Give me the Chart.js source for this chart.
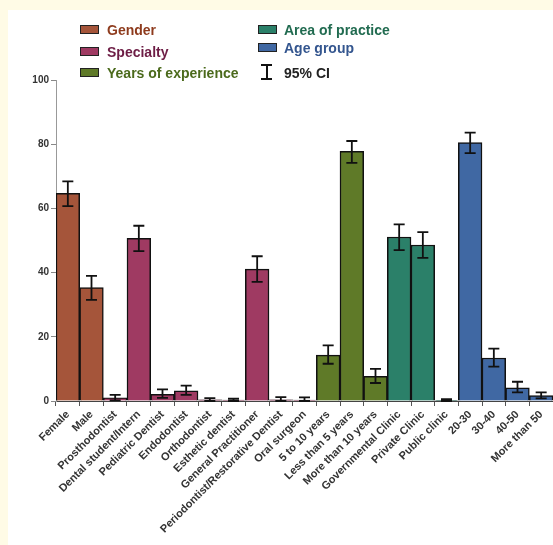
<!DOCTYPE html>
<html>
<head>
<meta charset="utf-8">
<script src="https://cdn.jsdelivr.net/npm/chart.js@4.4.1/dist/chart.umd.min.js"></script>
<style>
  html, body { margin: 0; padding: 0; }
  body { width: 553px; height: 545px; background: #fffbe6; position: relative; overflow: hidden;
         font-family: "Liberation Sans", Arial, sans-serif; }
  #panel { position: absolute; left: 8px; top: 10px; right: 0; bottom: 0; background: #ffffff; }
  #wrap { position: absolute; left: 0; top: 0; width: 553px; height: 545px; }
  .leg { position: absolute; font-weight: bold; font-size: 14px; line-height: 16px; white-space: nowrap; }
  .sw { position: absolute; width: 17px; height: 7px; border: 1.5px solid #222; }
  .ci-v { position: absolute; width: 2px; background: #111; }
  .ci-h { position: absolute; height: 2px; background: #111; }
</style>
</head>
<body>
<div id="panel"></div>
<div id="wrap"><canvas id="chart" width="553" height="545"></canvas></div>

<div class="sw" style="left:80px;top:25px;background:#a5553a"></div>
<div class="leg" style="left:107px;top:22px;color:#8e3b1d">Gender</div>
<div class="sw" style="left:80px;top:47px;background:#9f3a62"></div>
<div class="leg" style="left:107px;top:44px;color:#6d1d45">Specialty</div>
<div class="sw" style="left:80px;top:68px;background:#5f7a28"></div>
<div class="leg" style="left:107px;top:65px;color:#4b6a1c">Years of experience</div>

<div class="sw" style="left:258px;top:25px;background:#2b8069"></div>
<div class="leg" style="left:284px;top:22px;color:#216b50">Area of practice</div>
<div class="sw" style="left:258px;top:43px;background:#4068a3"></div>
<div class="leg" style="left:284px;top:40px;color:#34568f">Age group</div>
<div class="ci-h" style="left:261px;top:64px;width:11px"></div>
<div class="ci-v" style="left:265.5px;top:64px;height:15px"></div>
<div class="ci-h" style="left:261px;top:78px;width:11px"></div>
<div class="leg" style="left:284px;top:65px;color:#222">95% CI</div>

<script>
// Survey response percentages with 95% confidence intervals
const categories = [
  "Female", "Male",
  "Prosthodontist", "Dental student/Intern", "Pediatric Dentist", "Endodontist",
  "Orthodontist", "Esthetic dentist", "General Practitioner",
  "Periodontist/Restorative Dentist", "Oral surgeon",
  "5 to 10 years", "Less than 5 years", "More than 10 years",
  "Governmental Clinic", "Private Clinic", "Public clinic",
  "20-30", "30-40", "40-50", "More than 50"
];
const groupOf = [
  "Gender", "Gender",
  "Specialty", "Specialty", "Specialty", "Specialty",
  "Specialty", "Specialty", "Specialty",
  "Specialty", "Specialty",
  "Years of experience", "Years of experience", "Years of experience",
  "Area of practice", "Area of practice", "Area of practice",
  "Age group", "Age group", "Age group", "Age group"
];
const percent = [
  64.7, 35.3,
  1.0, 50.7, 2.1, 3.2,
  0.4, 0.3, 41.1,
  0.4, 0.3,
  14.3, 77.8, 7.7,
  51.1, 48.6, 0.2,
  80.5, 13.4, 4.1, 1.7
];
const ciLow = [
  60.7, 31.5,
  0.2, 46.7, 1.0, 1.9,
  0.0, 0.0, 37.1,
  0.0, 0.0,
  11.6, 74.2, 5.6,
  47.0, 44.6, 0.0,
  77.2, 10.7, 2.7, 0.8
];
const ciHigh = [
  68.4, 39.0,
  1.9, 54.6, 3.6, 4.8,
  0.9, 0.7, 45.1,
  1.2, 1.1,
  17.3, 81.0, 10.0,
  55.0, 52.6, 0.6,
  83.6, 16.3, 6.0, 2.7
];
const yTicks = [0, 20, 40, 60, 80, 100];

const groupColors = {
  "Gender": "#a5553a",
  "Specialty": "#9f3a62",
  "Years of experience": "#5f7a28",
  "Area of practice": "#2b8069",
  "Age group": "#4068a3"
};

// Draws the 95% CI whiskers on top of each bar
const errorBars = {
  id: "errorBars",
  afterDatasetsDraw(chart) {
    const { ctx, scales: { x, y } } = chart;
    ctx.save();
    ctx.strokeStyle = "#111";
    ctx.lineWidth = 1.8;
    const cap = 5.5;
    categories.forEach((c, i) => {
      const px = x.getPixelForValue(i);
      const yl = y.getPixelForValue(ciLow[i]);
      const yh = y.getPixelForValue(ciHigh[i]);
      ctx.beginPath();
      ctx.moveTo(px, yl); ctx.lineTo(px, yh);
      ctx.moveTo(px - cap, yh); ctx.lineTo(px + cap, yh);
      ctx.moveTo(px - cap, yl); ctx.lineTo(px + cap, yl);
      ctx.stroke();
    });
    ctx.restore();
  }
};

const font = { family: "'Liberation Sans', Arial, sans-serif", weight: "bold", size: 11 };

new Chart(document.getElementById("chart"), {
  type: "bar",
  data: {
    labels: categories,
    datasets: [{
      data: percent,
      backgroundColor: groupOf.map(g => groupColors[g]),
      borderColor: "#111",
      borderWidth: 1.5,
      barPercentage: 1,
      categoryPercentage: 1
    }]
  },
  options: {
    responsive: false,
    animation: false,
    layout: { padding: { top: 80, right: 0, left: 0, bottom: 0 } },
    plugins: { legend: { display: false }, tooltip: { enabled: false } },
    scales: {
      x: {
        grid: { display: true, drawOnChartArea: false, drawTicks: true, tickLength: 5, color: "#555", lineWidth: 1 },
        border: { display: true, color: "#444", width: 1 },
        ticks: { color: "#333", font: font, minRotation: 45, maxRotation: 45, padding: 2, autoSkip: false },
        afterFit(scale) { scale.height = 144; scale.paddingLeft = 0; scale.paddingRight = 0; }
      },
      y: {
        min: 0, max: 100,
        afterBuildTicks(scale) { scale.ticks = yTicks.map(v => ({ value: v })); },
        grid: { display: true, drawOnChartArea: false, drawTicks: true, tickLength: 5, color: "#888", lineWidth: 1 },
        border: { display: true, color: "#999", width: 1 },
        ticks: { color: "#333", font: { ...font, size: 10 }, padding: 2 },
        afterFit(scale) { scale.width = 56; scale.paddingTop = 0; scale.paddingBottom = 0; }
      }
    }
  },
  plugins: [errorBars]
});
</script>
</body>
</html>
